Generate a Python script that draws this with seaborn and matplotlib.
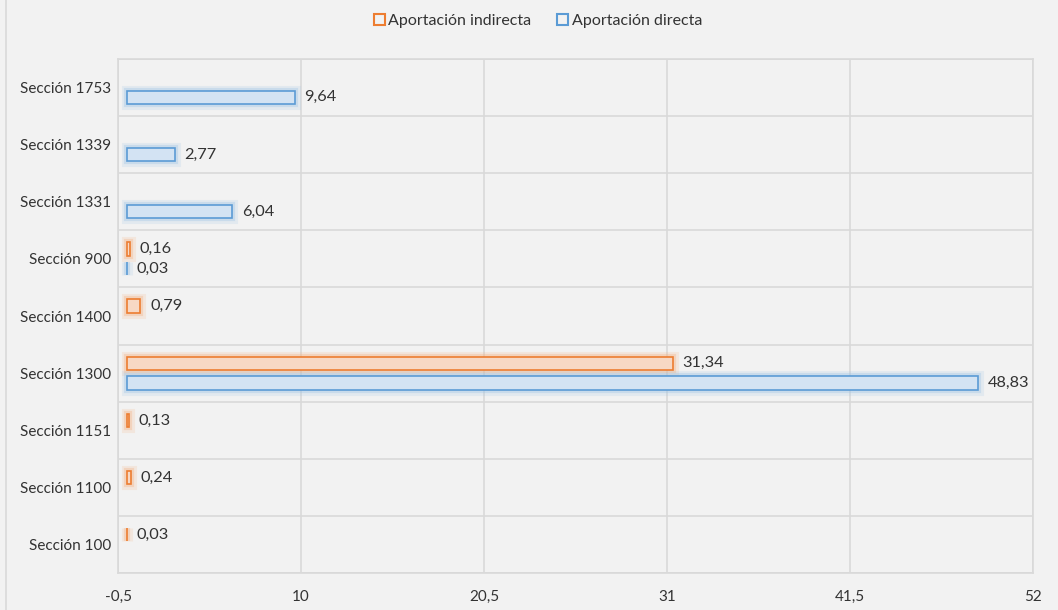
import matplotlib
matplotlib.use("Agg")
import matplotlib.pyplot as plt
import matplotlib.patheffects as pe
from matplotlib.patches import Patch
from matplotlib.lines import Line2D
import seaborn as sns
import pandas as pd
import numpy as np

secciones = ["Sección 1753", "Sección 1339", "Sección 1331", "Sección 900", "Sección 1400",
             "Sección 1300", "Sección 1151", "Sección 1100", "Sección 100"]
indirecta = [np.nan, np.nan, np.nan, 0.16, 0.79, 31.34, 0.13, 0.24, 0.03]
directa = [9.64, 2.77, 6.04, 0.03, np.nan, 48.83, np.nan, np.nan, np.nan]
series = ["Aportación indirecta", "Aportación directa"]
xticks = [-0.5, 10, 20.5, 31, 41.5, 52]

# tabla larga para seaborn
df = pd.DataFrame({
    "seccion": secciones * 2,
    "valor": indirecta + directa,
    "serie": [series[0]] * len(secciones) + [series[1]] * len(secciones),
}).dropna()

BG = "#f2f2f2"
GRID = "#d9d9d9"
TXT = "#333333"
edges = ["#ED7D31", "#5B9BD5"]
faces = ["#f7d8c4", "#d3e3f3"]
glows = ["#f4b183", "#9dc3e6"]

sns.set_style("white")
plt.rcParams["font.family"] = ["Lato", "DejaVu Sans"]

fig = plt.figure(figsize=(10.58, 6.10), dpi=100, facecolor=BG)
ax = fig.add_axes([118 / 1058, 1 - 573 / 610, (1033 - 118) / 1058, (573 - 59) / 610])
ax.set_facecolor(BG)

sns.barplot(data=df, y="seccion", x="valor", hue="serie", order=secciones,
            hue_order=series, orient="h", width=0.684, gap=0.307,
            palette=edges, legend=False, ax=ax)

for i, cont in enumerate(ax.containers):
    for bar in cont:
        bar.set_facecolor(faces[i])
        bar.set_edgecolor(edges[i])
        bar.set_linewidth(1.2)
        bar.set_path_effects([
            pe.Stroke(linewidth=8, foreground=glows[i], alpha=0.18),
            pe.Stroke(linewidth=4.5, foreground=glows[i], alpha=0.35),
            pe.Normal(),
        ])
    labels = [f"{v:.2f}".replace(".", ",") for v in cont.datavalues]
    ax.bar_label(cont, labels=labels, padding=7, fontsize=11.8, color=TXT)

ax.set_xlim(-0.5, 52)
ax.set_ylim(len(secciones) - 0.5, -0.5)
ax.set_xticks(xticks)
ax.set_xticklabels([f"{t:g}".replace(".", ",") for t in xticks])
ax.set_yticks(np.arange(-0.5, len(secciones), 1), minor=True)
ax.grid(True, axis="x", which="major", color=GRID, linewidth=1.2)
ax.grid(True, axis="y", which="minor", color=GRID, linewidth=1.2)
ax.set_axisbelow(True)
ax.tick_params(axis="both", which="both", length=0, colors=TXT, labelsize=11)
ax.tick_params(axis="x", pad=12)
ax.tick_params(axis="y", pad=5)
ax.set_xlabel("")
ax.set_ylabel("")
for s in ax.spines.values():
    s.set_color(GRID)
    s.set_linewidth(1.2)

handles = [Patch(facecolor=BG, edgecolor=edges[i], linewidth=1.5, label=series[i]) for i in range(2)]
fig.legend(handles=handles, loc="center", bbox_to_anchor=(538 / 1058, 1 - 21 / 610), ncol=2,
           frameon=False, fontsize=11.5, handlelength=0.7, handleheight=0.7,
           handletextpad=0.2, columnspacing=1.6, labelcolor=TXT)

fig.add_artist(Line2D([6 / 1058, 6 / 1058], [0, 1], color=GRID, linewidth=1.2,
                      transform=fig.transFigure))

fig.savefig("out.png", dpi=100, facecolor=BG)
